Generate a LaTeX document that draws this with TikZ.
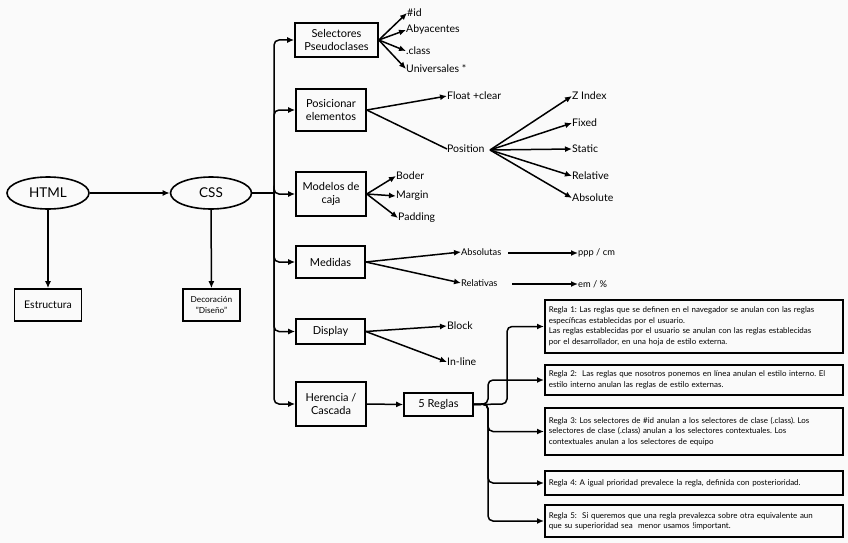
\documentclass[tikz,border=0pt]{standalone}
\usepackage{fontspec}
\setmainfont{Lato}
\usetikzlibrary{shapes.geometric,arrows.meta}
\definecolor{bg}{HTML}{FAFAFA}
\frenchspacing
\begin{document}
\begin{tikzpicture}[x=1pt,y=-1pt,
  ell/.style={draw, ellipse, line width=1.6pt, minimum height=32, inner sep=0, font=\fontsize{13.5}{15}\selectfont},
  box/.style={draw, rectangle, line width=1.6pt, inner sep=0, align=center, font=\fontsize{11}{13.5}\selectfont},
  leaf/.style={anchor=west, inner sep=0, font=\fontsize{10.5}{12}\selectfont},
  small/.style={anchor=west, inner sep=0, font=\fontsize{9.3}{11}\selectfont},
  rule/.style={draw, rectangle, line width=1.6pt, anchor=west, minimum width=298, text width=290, inner xsep=4, inner ysep=0, align=left, font=\fontsize{7.95}{10.5}\selectfont},
  conn/.style={line width=1.5pt, -{Latex[length=7pt,width=6pt]}},
  plain/.style={line width=1.5pt}]
\useasboundingbox[fill=bg] (0,0) rectangle (848,543);

% main nodes
\node[ell, minimum width=82] (html) at (48,193) {HTML};
\node[ell, minimum width=81] (css) at (211,193) {CSS};
\node[box, minimum width=67, minimum height=32, font=\fontsize{10.5}{12}\selectfont] (estr) at (48,305) {Estructura};
\node[box, minimum width=57, minimum height=32, font=\fontsize{8.3}{10.5}\selectfont] (deco) at (211.5,305) {Decoración\\"Diseño"};

\draw[conn] (html) -- (css);
\draw[conn] (html) -- (estr);
\draw[conn] (css) -- (deco);

% level boxes
\node[box, minimum width=83, minimum height=34] (sel) at (336.5,40) {Selectores\\Pseudoclases};
\node[box, minimum width=70, minimum height=42] (pos) at (331,110) {Posicionar\\elementos};
\node[box, minimum width=70, minimum height=44] (mod) at (331,194) {Modelos de\\caja};
\node[box, minimum width=69, minimum height=32] (med) at (330.5,262) {Medidas};
\node[box, minimum width=69, minimum height=25] (disp) at (330.5,331.5) {Display};
\node[box, minimum width=70, minimum height=44] (her) at (331,404) {Herencia /\\Cascada};
\node[box, minimum width=69, minimum height=23] (reg) at (438.5,404.5) {5 Reglas};

% trunk
\coordinate (trunk) at (274,193);
\draw[plain] (css.east) -- (trunk);
\foreach \b in {sel,pos,mod,med,disp,her}
  \draw[conn, rounded corners=5pt] (trunk) |- (\b.west);

% selectores leaves
\node[leaf] (id) at (407,13) {\#id};
\node[leaf] (aby) at (406,30) {Abyacentes};
\node[leaf] (cls) at (406,51) {.class};
\node[leaf] (uni) at (406,69) {Universales *};
\foreach \l in {id,aby,cls,uni}
  \draw[conn] (sel.east) -- (\l.west);

% posicionar
\node[leaf] (float) at (447,96) {Float +clear};
\node[leaf] (position) at (447,149) {Position};
\draw[conn] (pos.east) -- (float.west);
\draw[plain] (pos.east) -- (position.west);
\coordinate (posout) at (490,150);
\node[leaf] (zidx) at (572,96) {Z Index};
\node[leaf] (fixed) at (572,123) {Fixed};
\node[leaf] (static) at (572,149) {Static};
\node[leaf] (relative) at (572,176) {Relative};
\node[leaf] (absolute) at (572,198) {Absolute};
\foreach \l in {zidx,fixed,static,relative,absolute}
  \draw[conn] (posout) -- (\l.west);

% modelos de caja
\node[leaf] (boder) at (396,176) {Boder};
\node[leaf] (margin) at (396,196) {Margin};
\node[leaf] (padding) at (398,218) {Padding};
\foreach \l in {boder,margin,padding}
  \draw[conn] (mod.east) -- (\l.west);

% medidas
\node[small] (absol) at (461,252) {Absolutas};
\node[small] (relat) at (461,283) {Relativas};
\node[small] (ppp) at (578,253) {ppp / cm};
\node[small] (em) at (578,284) {em / \%};
\draw[conn] (med.east) -- (absol.west);
\draw[conn] (med.east) -- (relat.west);
\coordinate (pppfrom) at (508,253);
\coordinate (emfrom) at (512,284);
\draw[conn] (pppfrom) -- (ppp.west);
\draw[conn] (emfrom) -- (em.west);

% display
\node[leaf] (block) at (447,326) {Block};
\node[leaf] (inline) at (447,362) {In-line};
\draw[conn] (disp.east) -- (block.west);
\draw[conn] (disp.east) -- (inline.west);

% herencia
\draw[conn] (her.east) -- (reg.west);

% reglas
\node[rule, minimum height=53] (r1) at (544,326.5) {Regla 1: Las reglas que se definen en el navegador se anulan con las reglas\\específicas establecidas por el usuario.\\Las reglas establecidas por el usuario se anulan con las reglas establecidas\\por el desarrollador, en una hoja de estilo externa.};
\node[rule, minimum height=30] (r2) at (544,380) {Regla 2:\ \ Las reglas que nosotros ponemos en línea anulan el estilo interno. El\\estilo interno anulan las reglas de estilo externas.};
\node[rule, minimum height=47] (r3) at (544,431.5) {Regla 3: Los selectores de \#id anulan a los selectores de clase (.class). Los\\selectores de clase (.class) anulan a los selectores contextuales. Los\\contextuales anulan a los selectores de equipo};
\node[rule, minimum height=24] (r4) at (544,483) {Regla 4: A igual prioridad prevalece la regla, definida con posterioridad.};
\node[rule, minimum height=32] (r5) at (544,521) {Regla 5:\ \ Si queremos que una regla prevalezca sobre otra equivalente aun\\que su superioridad sea\ \ menor usamos !important.};

\coordinate (ja) at (507,404);
\coordinate (jb) at (488,404);
\draw[conn, rounded corners=5pt] (reg.east) -- (ja) |- (r1.west);
\foreach \r in {r2,r3,r4,r5}
  \draw[conn, rounded corners=5pt] (reg.east) -- (jb) |- (\r.west);
\end{tikzpicture}
\end{document}
